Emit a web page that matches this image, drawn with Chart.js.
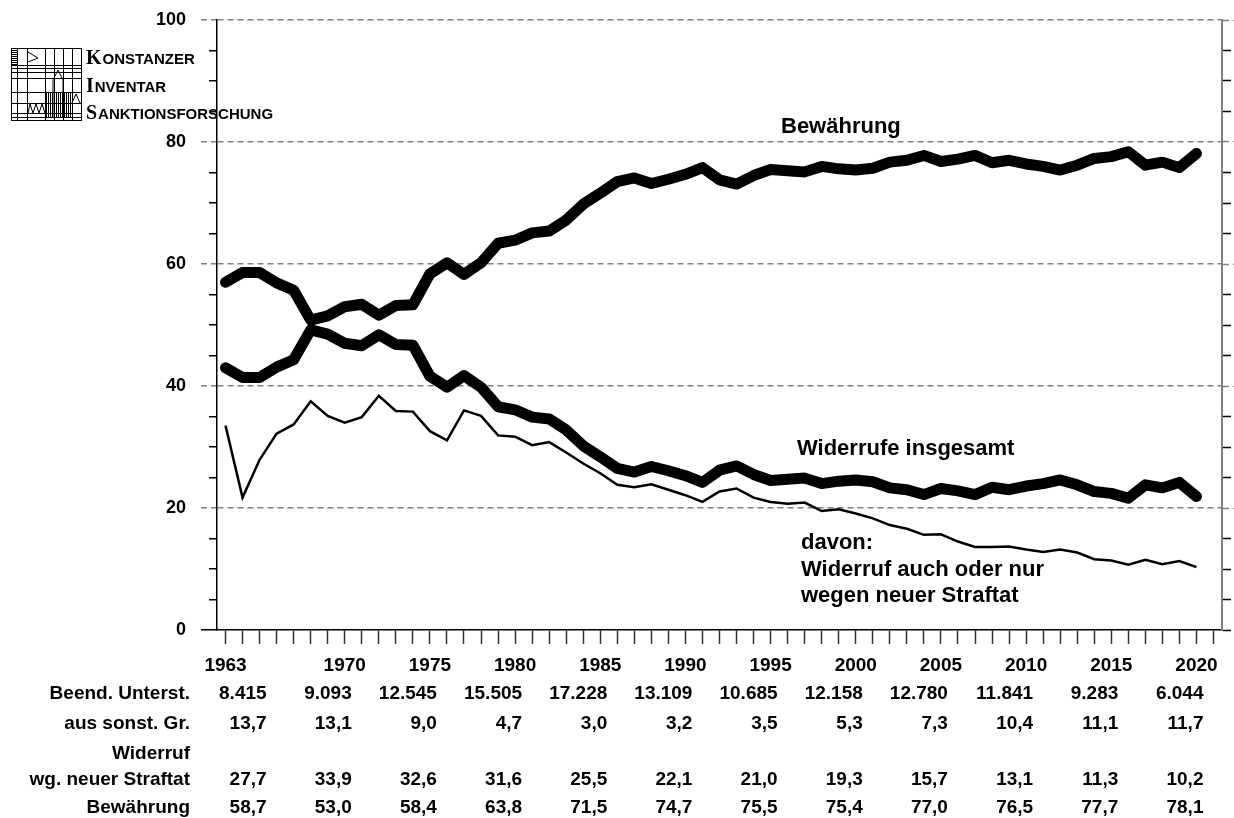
<!DOCTYPE html>
<html>
<head>
<meta charset="utf-8">
<script src="https://cdn.jsdelivr.net/npm/chart.js@4"></script>
<style>
  html, body { margin: 0; padding: 0; background: #fff; }
  #wrap { width: 1234px; height: 818px; }
</style>
</head>
<body>
<div id="wrap"><canvas id="chart" width="1234" height="818"></canvas></div>
<script>
// Daten
const years = [1963, 1964, 1965, 1966, 1967, 1968, 1969, 1970, 1971, 1972,
               1973, 1974, 1975, 1976, 1977, 1978, 1979, 1980, 1981, 1982,
               1983, 1984, 1985, 1986, 1987, 1988, 1989, 1990, 1991, 1992,
               1993, 1994, 1995, 1996, 1997, 1998, 1999, 2000, 2001, 2002,
               2003, 2004, 2005, 2006, 2007, 2008, 2009, 2010, 2011, 2012,
               2013, 2014, 2015, 2016, 2017, 2018, 2019, 2020];

const bewaehrung = [57.0, 58.6, 58.6, 56.9, 55.7, 50.8, 51.5, 53.0, 53.4, 51.6,
                    53.2, 53.3, 58.4, 60.2, 58.3, 60.2, 63.4, 63.9, 65.1, 65.4,
                    67.2, 69.8, 71.6, 73.5, 74.1, 73.2, 73.9, 74.7, 75.8, 73.8,
                    73.1, 74.5, 75.5, 75.3, 75.1, 76.0, 75.6, 75.4, 75.7, 76.7,
                    77.0, 77.8, 76.8, 77.2, 77.8, 76.6, 77.0, 76.4, 76.0, 75.4,
                    76.2, 77.3, 77.6, 78.4, 76.2, 76.7, 75.8, 78.1];

const widerrufe = [43.0, 41.4, 41.4, 43.1, 44.3, 49.2, 48.5, 47.0, 46.6, 48.4,
                   46.8, 46.7, 41.6, 39.8, 41.7, 39.8, 36.6, 36.1, 34.9, 34.6,
                   32.8, 30.2, 28.4, 26.5, 25.9, 26.8, 26.1, 25.3, 24.2, 26.2,
                   26.9, 25.5, 24.5, 24.7, 24.9, 24.0, 24.4, 24.6, 24.3, 23.3,
                   23.0, 22.2, 23.2, 22.8, 22.2, 23.4, 23.0, 23.6, 24.0, 24.6,
                   23.8, 22.7, 22.4, 21.6, 23.8, 23.3, 24.2, 21.9];

const neueStraftat = [33.5, 21.7, 27.9, 32.2, 33.7, 37.5, 35.1, 34.0, 34.9, 38.4,
                      35.9, 35.8, 32.6, 31.1, 36.0, 35.1, 31.9, 31.7, 30.3, 30.8,
                      29.1, 27.3, 25.7, 23.8, 23.4, 23.9, 23.0, 22.1, 21.0, 22.7,
                      23.2, 21.7, 21.0, 20.7, 20.9, 19.5, 19.8, 19.1, 18.3, 17.2,
                      16.6, 15.6, 15.7, 14.5, 13.6, 13.6, 13.7, 13.2, 12.8, 13.2,
                      12.7, 11.6, 11.4, 10.7, 11.5, 10.8, 11.3, 10.3];

// Achsen
const xTickYears = [...years, 2021];
const xLabelYears = [1963, 1970, 1975, 1980, 1985, 1990, 1995, 2000, 2005, 2010, 2015, 2020];
const yTicks = [0, 5, 10, 15, 20, 25, 30, 35, 40, 45, 50, 55, 60, 65, 70, 75, 80, 85, 90, 95, 100];
const yLabels = [0, 20, 40, 60, 80, 100];

// Tabelle unter der Grafik
const tableYears = [1965, 1970, 1975, 1980, 1985, 1990, 1995, 2000, 2005, 2010, 2015, 2020];
const rowBeend = ['8.415', '9.093', '12.545', '15.505', '17.228', '13.109', '10.685', '12.158', '12.780', '11.841', '9.283', '6.044'];
const rowSonst = ['13,7', '13,1', '9,0', '4,7', '3,0', '3,2', '3,5', '5,3', '7,3', '10,4', '11,1', '11,7'];
const rowStraftat = ['27,7', '33,9', '32,6', '31,6', '25,5', '22,1', '21,0', '19,3', '15,7', '13,1', '11,3', '10,2'];
const rowBew = ['58,7', '53,0', '58,4', '63,8', '71,5', '74,7', '75,5', '75,4', '77,0', '76,5', '77,7', '78,1'];

const SANS = '"Liberation Sans", Arial, sans-serif';
const SERIF = '"Liberation Serif", "Times New Roman", serif';

const isMajor = v => v % 20 === 0 && v > 0;
const pts = arr => arr.map((v, i) => ({ x: years[i], y: v }));

function line(ctx, x1, y1, x2, y2) {
    ctx.beginPath();
    ctx.moveTo(x1, y1);
    ctx.lineTo(x2, y2);
    ctx.stroke();
}

function drawLogo(ctx) {
    ctx.save();
    ctx.strokeStyle = '#000';
    ctx.lineWidth = 1;
    const L = 11, T = 48, R = 81, B = 120;
    ctx.strokeRect(L + 0.5, T + 0.5, R - L, B - T);
    [17, 27, 45, 54, 63, 72].forEach(x => line(ctx, x + 0.5, T, x + 0.5, B));
    [65, 68, 72, 78, 92, 103, 113, 117].forEach(y => line(ctx, L, y + 0.5, R, y + 0.5));
    // Schraffur links oben
    for (let y = 50; y < 66; y += 2) line(ctx, L, y + 0.5, 17, y + 0.5);
    // Turm
    ctx.beginPath();
    ctx.moveTo(53, 118); ctx.lineTo(53, 80); ctx.lineTo(58, 70); ctx.lineTo(63, 80); ctx.lineTo(63, 118);
    ctx.stroke();
    for (let x = 46; x < 72; x += 2) line(ctx, x + 0.5, 92, x + 0.5, 117);
    // Zickzack
    ctx.beginPath();
    ctx.moveTo(28, 113);
    for (let i = 0; i < 6; i++) ctx.lineTo(30 + i * 3, i % 2 === 0 ? 104 : 113);
    ctx.stroke();
    ctx.beginPath();
    ctx.moveTo(72, 103); ctx.lineTo(76, 94); ctx.lineTo(80, 103);
    ctx.stroke();
    // Flagge
    ctx.beginPath();
    ctx.moveTo(28, 52); ctx.lineTo(38, 58); ctx.lineTo(28, 62);
    ctx.stroke();

    ctx.fillStyle = '#000';
    ctx.textAlign = 'left';
    ctx.textBaseline = 'alphabetic';
    const rows = [['K', 'ONSTANZER', 64], ['I', 'NVENTAR', 92], ['S', 'ANKTIONSFORSCHUNG', 119]];
    rows.forEach(([a, rest, y]) => {
        ctx.font = 'bold 20px ' + SERIF;
        ctx.fillText(a, 86, y);
        const w = ctx.measureText(a).width;
        ctx.font = 'bold 15px ' + SANS;
        ctx.fillText(rest, 87 + w, y);
    });
    ctx.restore();
}

// Plugin: Beschriftungen, Tabelle und Logo
const annotationsPlugin = {
    id: 'annotations',
    afterDraw(chart) {
        const ctx = chart.ctx;
        const xs = chart.scales.x;
        ctx.save();
        ctx.fillStyle = '#000';
        ctx.textBaseline = 'alphabetic';

        ctx.font = 'bold 22px ' + SANS;
        ctx.textAlign = 'left';
        ctx.fillText('Bewährung', 781, 133);
        ctx.fillText('Widerrufe insgesamt', 797, 455);
        ctx.fillText('davon:', 801, 549);
        ctx.fillText('Widerruf auch oder nur', 801, 576);
        ctx.fillText('wegen neuer Straftat', 801, 602);

        ctx.font = 'bold 19px ' + SANS;
        ctx.textAlign = 'right';
        ctx.fillText('Beend. Unterst.', 190, 699);
        ctx.fillText('aus sonst. Gr.', 190, 729);
        ctx.fillText('Widerruf', 190, 759);
        ctx.fillText('wg. neuer Straftat', 190, 785);
        ctx.fillText('Bewährung', 190, 813);

        tableYears.forEach((yr, i) => {
            const px = xs.getPixelForValue(yr) + 7;
            ctx.fillText(rowBeend[i], px, 699);
            ctx.fillText(rowSonst[i], px, 729);
            ctx.fillText(rowStraftat[i], px, 785);
            ctx.fillText(rowBew[i], px, 813);
        });
        ctx.restore();

        drawLogo(ctx);
    }
};

const thick = { borderColor: '#000', borderWidth: 11, pointRadius: 0, tension: 0, fill: false, borderCapStyle: 'round', borderJoinStyle: 'round' };

new Chart(document.getElementById('chart'), {
    type: 'line',
    data: {
        datasets: [
            Object.assign({ label: 'Bewährung', data: pts(bewaehrung) }, thick),
            Object.assign({ label: 'Widerrufe insgesamt', data: pts(widerrufe) }, thick),
            { label: 'Widerruf wegen neuer Straftat', data: pts(neueStraftat), borderColor: '#000', borderWidth: 2.5, pointRadius: 0, tension: 0, fill: false }
        ]
    },
    options: {
        responsive: false,
        devicePixelRatio: 1,
        animation: false,
        layout: { padding: { top: 20, right: 0, bottom: 0, left: 0 } },
        plugins: { legend: { display: false }, tooltip: { enabled: false } },
        scales: {
            x: {
                type: 'linear',
                min: 1962.5,
                max: 2021.5,
                afterBuildTicks: s => { s.ticks = xTickYears.map(v => ({ value: v })); },
                afterFit: s => { s.height = 188; s.paddingLeft = 0; s.paddingRight = 0; },
                ticks: {
                    autoSkip: false, maxRotation: 0, padding: 10, color: '#000',
                    font: { family: SANS, size: 19, weight: 'bold' },
                    callback: v => xLabelYears.includes(v) ? String(v) : ''
                },
                grid: { drawOnChartArea: false, tickLength: 14, tickWidth: 1.5, tickColor: '#333' },
                border: { display: true, color: '#000', width: 1.5 }
            },
            y: {
                position: 'left',
                min: 0,
                max: 100,
                afterBuildTicks: s => { s.ticks = yTicks.map(v => ({ value: v })); },
                afterFit: s => { s.width = 217; s.paddingTop = 0; s.paddingBottom = 0; },
                ticks: {
                    padding: 15, color: '#000',
                    font: { family: SANS, size: 18, weight: 'bold' },
                    callback: v => yLabels.includes(v) ? String(v) : ''
                },
                grid: {
                    color: c => (c.tick && isMajor(c.tick.value)) ? '#808080' : 'rgba(0,0,0,0)',
                    lineWidth: 1.5,
                    tickLength: 16,
                    tickWidth: 1.5,
                    tickColor: c => (c.tick && isMajor(c.tick.value)) ? '#808080' : '#000',
                    tickBorderDash: c => {
                        const v = c.tick ? c.tick.value : 0;
                        if (v === 0) return [];
                        return isMajor(v) ? [6, 4] : [0, 8, 16];
                    }
                },
                border: { display: true, color: '#000', width: 1.5, dash: [6, 4] }
            },
            y2: {
                position: 'right',
                min: 0,
                max: 100,
                afterBuildTicks: s => { s.ticks = yTicks.map(v => ({ value: v })); },
                afterFit: s => { s.paddingTop = 0; s.paddingBottom = 0; },
                ticks: { display: false },
                grid: {
                    drawOnChartArea: false,
                    tickLength: 12,
                    tickWidth: 1.5,
                    tickColor: c => (c.tick && isMajor(c.tick.value)) ? '#808080' : '#000',
                    tickBorderDash: c => (c.tick && isMajor(c.tick.value)) ? [6, 4] : [8, 20]
                },
                border: { display: true, color: '#808080', width: 2 }
            }
        }
    },
    plugins: [annotationsPlugin]
});
</script>
</body>
</html>
